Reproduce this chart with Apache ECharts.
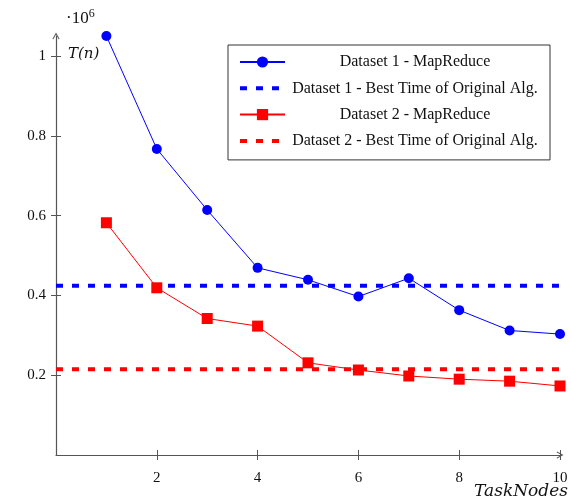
<!DOCTYPE html>
<html>
<head>
<meta charset="utf-8">
<script src="https://cdn.jsdelivr.net/npm/echarts@6/dist/echarts.min.js"></script>
<style>
  html, body { margin: 0; padding: 0; background: #fff; }
  #main { width: 571px; height: 503px; }
</style>
</head>
<body>
<div id="main"></div>
<script>
// values in units of 10^6
var taskNodes = [1, 2, 3, 4, 5, 6, 7, 8, 9, 10];
var dataset1MR = [1.050, 0.767, 0.614, 0.469, 0.439, 0.397, 0.443, 0.363, 0.312, 0.303];
var dataset2MR = [0.582, 0.419, 0.342, 0.323, 0.231, 0.213, 0.198, 0.190, 0.185, 0.173];
var dataset1Best = 0.424;
var dataset2Best = 0.215;
var xRange = [0, 10];
var yRange = [0, 1.05];
var xTicks = [2, 4, 6, 8, 10];
var yTicks = [0.2, 0.4, 0.6, 0.8, 1];
var seriesNames = [
  'Dataset 1 - MapReduce',
  'Dataset 1 - Best Time of Original Alg.',
  'Dataset 2 - MapReduce',
  'Dataset 2 - Best Time of Original Alg.'
];

var serif = '"Liberation Serif", "DejaVu Serif", serif';
var axisCol = '#555';
var chevron = 'path://M5,0 L10,9 L9,10 L5,3 L1,10 L0,9 Z';

function pairs(xs, ys) {
  var out = [];
  for (var i = 0; i < xs.length; i++) out.push([xs[i], ys[i]]);
  return out;
}

var chart = echarts.init(document.getElementById('main'));

var option = {
  animation: false,
  backgroundColor: '#fff',
  grid: { left: 56, right: 11, top: 36, bottom: 48, containLabel: false },
  xAxis: [{
    type: 'value', min: xRange[0], max: xRange[1],
    splitLine: { show: false },
    axisLine: { lineStyle: { color: axisCol, width: 1.2 }, symbol: ['none', chevron], symbolSize: [8, 7] },
    axisTick: { length: 5, customValues: xTicks, lineStyle: { color: axisCol } },
    axisLabel: { customValues: xTicks, margin: 16, color: '#111', fontFamily: serif, fontSize: 15 }
  }, {
    type: 'value', min: xRange[0], max: xRange[1], position: 'bottom',
    splitLine: { show: false }, axisLine: { show: false }, axisLabel: { show: false },
    axisTick: { inside: true, length: 5, customValues: xTicks, lineStyle: { color: axisCol } }
  }],
  yAxis: [{
    type: 'value', min: yRange[0], max: yRange[1],
    splitLine: { show: false },
    axisLine: { show: true, lineStyle: { color: axisCol, width: 1.2 }, symbol: ['none', chevron], symbolSize: [8, 7] },
    axisTick: { show: true, length: 5, customValues: yTicks, lineStyle: { color: axisCol } },
    axisLabel: { customValues: yTicks, margin: 10, color: '#111', fontFamily: serif, fontSize: 15 }
  }, {
    type: 'value', min: yRange[0], max: yRange[1], position: 'left',
    splitLine: { show: false }, axisLine: { show: false }, axisLabel: { show: false },
    axisTick: { show: true, inside: true, length: 5, customValues: yTicks, lineStyle: { color: axisCol } }
  }],
  legend: {
    orient: 'vertical', left: 228, top: 45,
    padding: [9, 10, 11, 10],
    itemWidth: 45, itemHeight: 14, itemGap: 10.3,
    borderColor: '#333', borderWidth: 1,
    backgroundColor: '#fff',
    data: [
      { name: seriesNames[0] },
      { name: seriesNames[1], itemStyle: { opacity: 0 }, lineStyle: { width: 4 } },
      { name: seriesNames[2] },
      { name: seriesNames[3], itemStyle: { opacity: 0 }, lineStyle: { width: 4 } }
    ],
    formatter: function (name) { return '{c|' + name + '}'; },
    textStyle: {
      lineHeight: 14,
      rich: { c: { width: 250, lineHeight: 14, align: 'center', fontFamily: serif, fontSize: 16, color: '#111' } }
    }
  },
  graphic: [
    { type: 'text', left: 66, top: 8,
      style: { text: '·10{s|6}', fontFamily: serif, fontSize: 17, fill: '#111',
        rich: { s: { fontSize: 12, verticalAlign: 'top', padding: [0, 0, 9, 0], fontFamily: serif } } } },
    { type: 'text', left: 68, top: 47,
      style: { text: 'T(n)', fontFamily: '"DejaVu Serif", serif', fontStyle: 'italic', fontSize: 15, fill: '#111' } },
    { type: 'text', right: 3, top: 483,
      style: { text: 'TaskNodes', fontFamily: '"DejaVu Serif", serif', fontStyle: 'italic', fontSize: 17, fill: '#111' } }
  ],
  series: [{
    name: seriesNames[0], type: 'line',
    data: pairs(taskNodes, dataset1MR),
    symbol: 'circle', symbolSize: 10,
    itemStyle: { color: '#0000ff' },
    lineStyle: { color: '#0000ff', width: 1 },
    z: 4
  }, {
    name: seriesNames[1], type: 'line',
    data: [[xRange[0], dataset1Best], [xRange[1], dataset1Best]],
    symbol: 'none',
    itemStyle: { color: '#0000ff' },
    lineStyle: { color: '#0000ff', width: 4, type: [7, 9] },
    z: 3
  }, {
    name: seriesNames[2], type: 'line',
    data: pairs(taskNodes, dataset2MR),
    symbol: 'rect', symbolSize: 11,
    itemStyle: { color: '#ff0000' },
    lineStyle: { color: '#ff0000', width: 1 },
    z: 4
  }, {
    name: seriesNames[3], type: 'line',
    data: [[xRange[0], dataset2Best], [xRange[1], dataset2Best]],
    symbol: 'none',
    itemStyle: { color: '#ff0000' },
    lineStyle: { color: '#ff0000', width: 4, type: [7, 9] },
    z: 3
  }]
};

chart.setOption(option);
</script>
</body>
</html>
